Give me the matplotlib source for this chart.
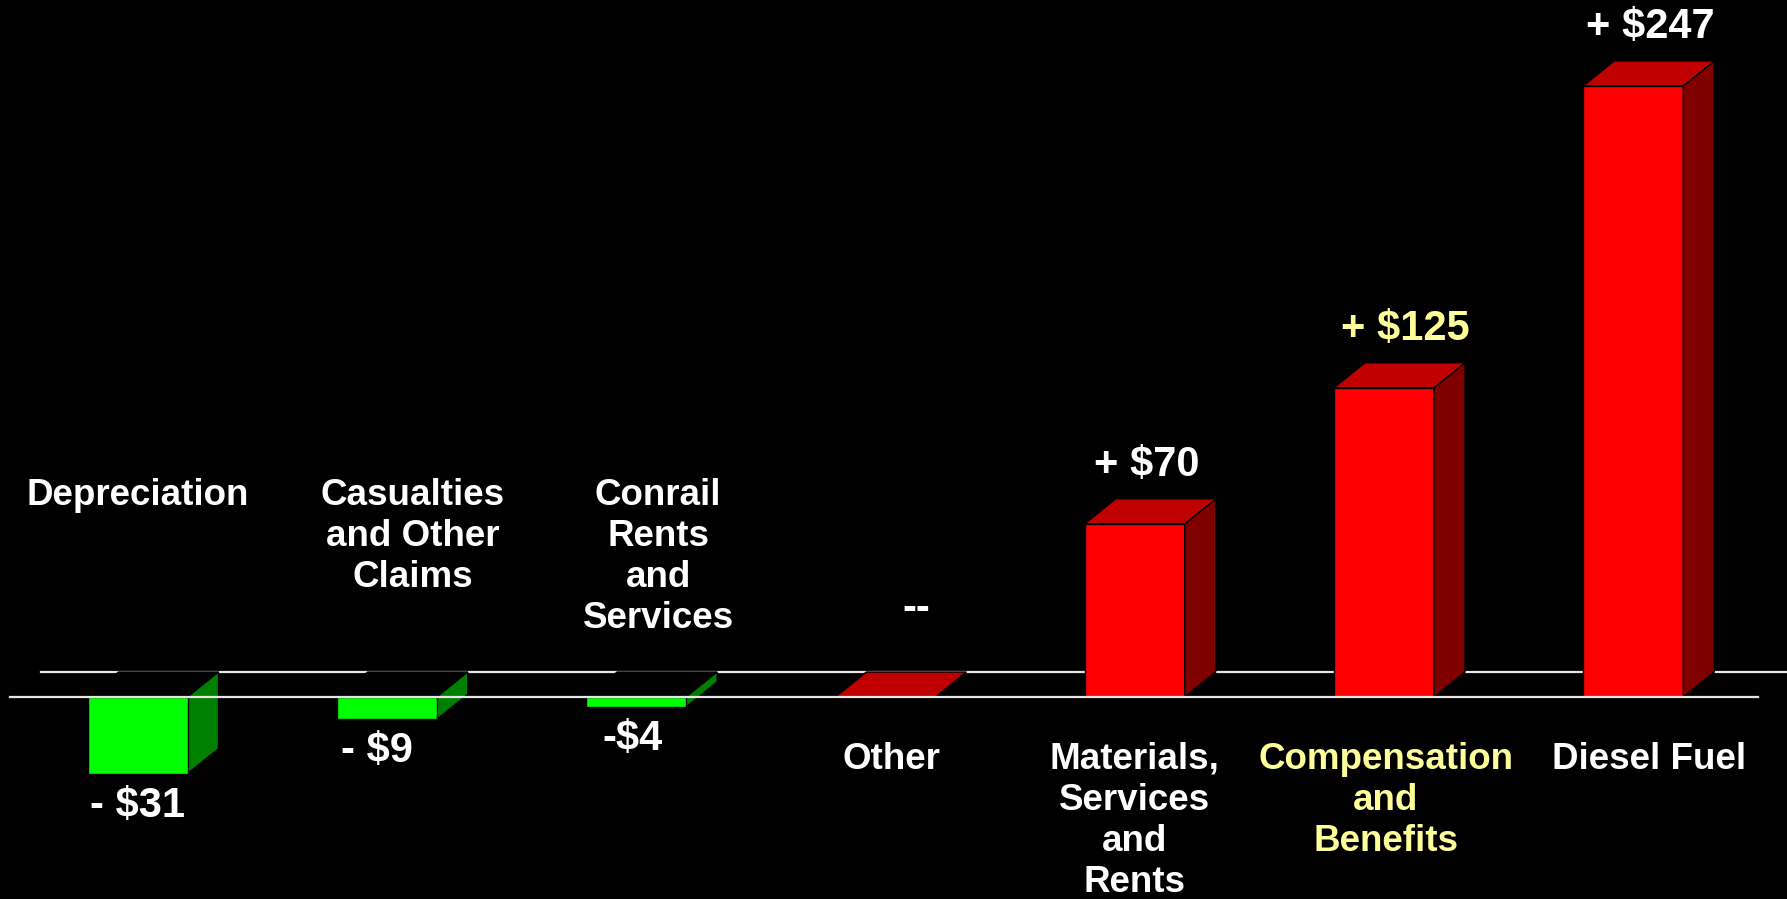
import matplotlib.pyplot as plt
from matplotlib.patches import Polygon

# change in operating expenses by category ($ millions)
categories = [
    "Depreciation",
    "Casualties\nand Other\nClaims",
    "Conrail\nRents\nand\nServices",
    "Other",
    "Materials,\nServices\nand\nRents",
    "Compensation\nand\nBenefits",
    "Diesel Fuel",
]
values = [-31, -9, -4, 0, 70, 125, 247]
value_labels = ["- $31", "- $9", "-$4", "--", "+ $70", "+ $125", "+ $247"]
highlight = "Compensation\nand\nBenefits"

# layout in pixels
W, H = 1787, 899
X0, STEP = 137.5, 249.3          # first bar centre, bar spacing
BASE, UNIT = 697, 2.474          # baseline row, px per $1M
DX_PX, DY_PX = 31, 25            # 3D depth offset
BAR_W = 100 / STEP
cat_nudge = [0, 26, 22, 6, 0, 2, 16]
val_nudge = [0, -10, -4, 0, -3, 6, 2]

FONT = "Liberation Sans"
YELLOW = "#FFFF99"

fig = plt.figure(figsize=(W / 100, H / 100), dpi=100, facecolor="black")
ax = fig.add_axes([0, 0, 1, 1])
ax.set_facecolor("black")
ax.axis("off")
ax.set_xlim(-X0 / STEP, (W - X0) / STEP)
ax.set_ylim(-(H - BASE) / UNIT, BASE / UNIT)

dx = DX_PX / STEP
dy = DY_PX / UNIT

# floor edges
ax.plot([-0.51 + dx, 6.5 + dx], [dy, dy], color="#E6E6E6", lw=1.6, zorder=1)
ax.plot([-0.51, 6.5], [0, 0], color="#E6E6E6", lw=1.6, zorder=10)


def poly(pts, color, z):
    ax.add_patch(Polygon(pts, closed=True, facecolor=color, edgecolor="black",
                         lw=1.0, zorder=z))


for i, v in enumerate(values):
    l, r = i - BAR_W / 2, i + BAR_W / 2
    if v > 0:
        poly([(l, 0), (r, 0), (r, v), (l, v)], "#FF0000", 3)
        poly([(r, 0), (r + dx, dy), (r + dx, v + dy), (r, v)], "#800000", 3)
        poly([(l, v), (r, v), (r + dx, v + dy), (l + dx, v + dy)], "#C00000", 3)
    elif v < 0:
        poly([(l, 0), (l + dx, dy), (r + dx, dy), (r, 0)], "black", 2)
        poly([(r, v), (r + dx, v + dy), (r + dx, dy), (r, 0)], "#008000", 3)
        poly([(l, v), (r, v), (r, 0), (l, 0)], "#00FF00", 3)
    else:
        poly([(l, 0), (r, 0), (r + dx, dy), (l + dx, dy)], "#C00000", 3)

# value labels
for i, (v, lab) in enumerate(zip(values, value_labels)):
    col = YELLOW if categories[i] == highlight else "white"
    nx = val_nudge[i] / STEP
    if v > 0:
        xy, off = (i + dx / 2 + nx, v + dy), 34
    elif v < 0:
        xy, off = (i + nx, v), -32
    else:
        xy, off = (i + dx + nx, dy), 63
    ax.annotate(lab, xy=xy, xytext=(0, off * 0.72), textcoords="offset points",
                ha="center", va="center", fontsize=30, fontweight="bold",
                family=FONT, color=col, zorder=20)

# category labels: above the floor for decreases, below for increases
xt = ax.get_xaxis_transform()
for i, (v, cat) in enumerate(zip(values, categories)):
    col = YELLOW if cat == highlight else "white"
    row = 478 if v < 0 else 742
    ax.text(i + cat_nudge[i] / STEP, 1 - row / H, cat, transform=xt,
            ha="center", va="top", multialignment="center", linespacing=1.22,
            fontsize=26.5, fontweight="bold", family=FONT, color=col, zorder=20)

fig.savefig("out.png", dpi=100, facecolor="black")
